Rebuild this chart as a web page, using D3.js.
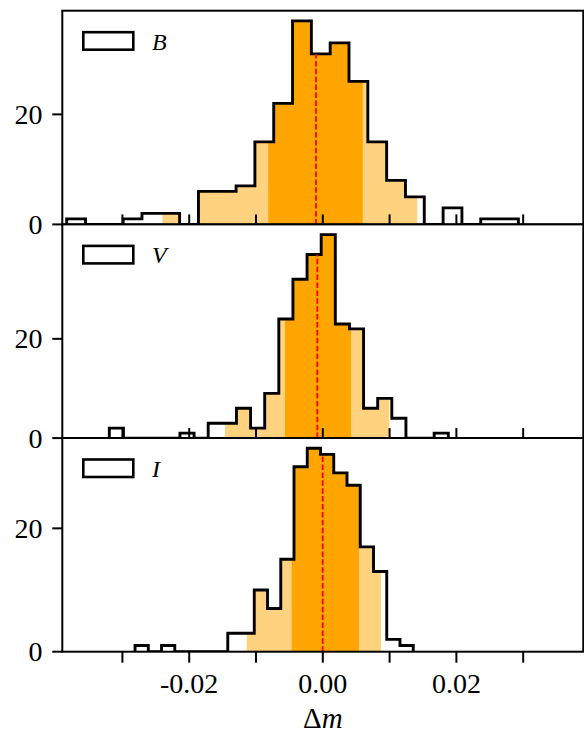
<!DOCTYPE html>
<html>
<head>
<meta charset="utf-8">
<script src="https://cdn.jsdelivr.net/npm/d3@7"></script>
<style>
  html, body { margin: 0; padding: 0; background: #fff; }
  svg { display: block; }
  text { font-family: "Liberation Serif", "Times New Roman", serif; fill: #000; }
</style>
</head>
<body>
<svg id="chart" width="584" height="735"></svg>
<script>
// ---------------- data ----------------
const bands = ["B", "V", "I"];

// histogram counts per band (equal-width bins spanning binRange*)
const countsB = [1,0,0,1,2,2,0,6,6,7,15,22,37,31,33,26,15,8,5,0,3,0,1,1];
const countsV = [2,0,0,0,0,1,0,3,3,6,2,9,24,32,37,41,23,22,6,8,4,0,0,1];
const countsI = [1,0,1,0,0,0,0,3,3,10,7,15,30,33,32,29,27,17,13,2,1];

// data range covered by the bins of each band
const binRangeB = [-0.03834, 0.02928];
const binRangeV = [-0.03196, 0.01879];
const binRangeI = [-0.02811, 0.01354];

// median and percentile intervals (dark = inner, light = outer)
const medians = [-0.00102, -0.00082, -0.00002];
const innerLo = [-0.00816, -0.00566, -0.00466];
const innerHi = [ 0.00597,  0.00422,  0.00542];
const outerLo = [-0.02403, -0.01464, -0.01139];
const outerHi = [ 0.01415,  0.00996,  0.00871];

// axis ticks
const xTicks = [-0.03, -0.02, -0.01, 0.00, 0.01, 0.02, 0.03];
const xTickLabels = {"-0.02": "-0.02", "0": "0.00", "0.02": "0.02"};
const yTicks = [0, 20];
const xDomain = [-0.039, 0.039];
const xLabel = "Δ";
const xLabelItalic = "m";

// ---------------- layout ----------------
const svg = d3.select("#chart");
const left = 62.3, right = 583.3;
const panelTops = [10.7, 224.4, 438.0];
const panelH = 213.7;
const light = "#FFD280", dark = "#FFA500";

const x = d3.scaleLinear().domain(xDomain).range([left, right]);

const allCounts = [countsB, countsV, countsI];
const allRanges = [binRangeB, binRangeV, binRangeI];

const defs = svg.append("defs");

bands.forEach((band, p) => {
  const counts = allCounts[p];
  const n = counts.length;
  const [lo, hi] = allRanges[p];
  const edges = d3.range(n + 1).map(i => lo + (hi - lo) * i / n);
  const top = panelTops[p];
  const bottom = top + panelH;
  const y = d3.scaleLinear().domain([0, 1.05 * d3.max(counts)]).range([bottom, top]);

  const clipId = "clip" + p;
  defs.append("clipPath").attr("id", clipId)
    .append("rect").attr("x", left).attr("y", top)
    .attr("width", right - left).attr("height", panelH);

  const g = svg.append("g");
  g.append("rect").attr("x", left).attr("y", top)
    .attr("width", right - left).attr("height", panelH).attr("fill", "#fff");

  const data = g.append("g").attr("clip-path", `url(#${clipId})`);

  const countAt = v => {
    let i = Math.floor((v - lo) / (hi - lo) * n);
    i = Math.max(0, Math.min(n - 1, i));
    return counts[i];
  };
  const area = d3.area().x(d => x(d[0])).y0(y(0)).y1(d => y(d[1])).curve(d3.curveStepAfter);
  const bandPts = (a, b) => {
    const pts = [[a, countAt(a)]];
    edges.forEach((e, i) => { if (e > a && e < b && i < n) pts.push([e, counts[i]]); });
    pts.push([b, countAt(b - 1e-9)]);
    return pts;
  };
  data.append("path").attr("d", area(bandPts(outerLo[p], outerHi[p]))).attr("fill", light);
  data.append("path").attr("d", area(bandPts(innerLo[p], innerHi[p]))).attr("fill", dark);

  // step outline
  const stepPts = [[edges[0], 0]];
  counts.forEach((c, i) => { stepPts.push([edges[i], c]); stepPts.push([edges[i + 1], c]); });
  stepPts.push([edges[n], 0]);
  data.append("path")
    .attr("d", d3.line().x(d => x(d[0])).y(d => y(d[1]))(stepPts))
    .attr("fill", "none").attr("stroke", "#000").attr("stroke-width", 2.9)
    .attr("stroke-linejoin", "miter");

  // median line
  data.append("line")
    .attr("x1", x(medians[p])).attr("x2", x(medians[p]))
    .attr("y1", y(0)).attr("y2", y(countAt(medians[p])))
    .attr("stroke", "red").attr("stroke-width", 1.8)
    .attr("stroke-dasharray", "5.5,2.4");

  // x ticks
  const xt = g.append("g");
  xTicks.forEach(t => {
    const inward = p < 2;
    xt.append("line")
      .attr("x1", x(t)).attr("x2", x(t))
      .attr("y1", bottom).attr("y2", inward ? bottom - 10 : bottom + 11)
      .attr("stroke", "#000").attr("stroke-width", 2);
    if (!inward) {
      const key = String(+t.toFixed(2));
      if (xTickLabels[key] !== undefined) {
        xt.append("text").attr("x", x(t)).attr("y", 693)
          .attr("text-anchor", "middle").attr("font-size", 28)
          .text(xTickLabels[key]);
      }
    }
  });

  // y ticks
  yTicks.forEach(t => {
    g.append("line").attr("x1", left - 10).attr("x2", left)
      .attr("y1", y(t)).attr("y2", y(t))
      .attr("stroke", "#000").attr("stroke-width", 2);
    g.append("text").attr("x", 42.5).attr("y", y(t) + 9.5)
      .attr("text-anchor", "end").attr("font-size", 28).text(t);
  });

  // spines
  g.append("rect").attr("x", left).attr("y", top)
    .attr("width", right - left).attr("height", panelH)
    .attr("fill", "none").attr("stroke", "#000").attr("stroke-width", 2);

  // legend
  g.append("rect").attr("x", 83.3).attr("y", top + 21.5)
    .attr("width", 50).attr("height", 17.5)
    .attr("fill", "#fff").attr("stroke", "#000").attr("stroke-width", 2.6);
  g.append("text").attr("x", 152).attr("y", top + 39)
    .attr("font-size", 24).attr("font-style", "italic").text(band);
});

// x axis label
const lab = svg.append("text").attr("x", x(0)).attr("y", 728)
  .attr("text-anchor", "middle").attr("font-size", 29);
lab.append("tspan").text(xLabel);
lab.append("tspan").attr("font-style", "italic").text(xLabelItalic);
</script>
</body>
</html>
